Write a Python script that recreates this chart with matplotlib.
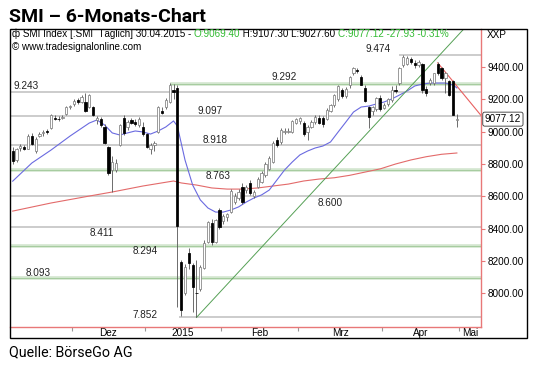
import matplotlib
matplotlib.use("Agg")
import matplotlib.pyplot as plt
from matplotlib.patches import Rectangle
from matplotlib.ticker import FixedLocator, FuncFormatter, NullFormatter

opens = [8880, 8825, 8900, 8905, 8895, 8975, 8880, 8975, 8990, 9000,
         9020, 9085, 9080, 9085, 9110, 9150, 9170, 9195, 9180, 9185,
         9150, 9150, 9070, 9080, 9030, 8905, 8765, 8765, 8920, 9085,
         9030, 9070, 9060, 9040, 9030, 8985, 8890, 8920, 9000, 9130,
         9150, 9180, 9255, 9270, 8195, 8005, 8250, 8175, 8005, 8025,
         8160, 8320, 8435, 8320, 8515, 8445, 8470, 8505, 8565, 8590,
         8655, 8640, 8680, 8600, 8655, 8690, 8730, 8770, 8815, 8950,
         8935, 9000, 9000, 9000, 9055, 9065, 9055, 9000, 9030, 9060,
         9085, 9085, 9080, 9130, 9165, 9200, 9260, 9220, 9285, 9360,
         9380, 9340, 9270, 9150, 9130, 9140, 9210, 9145, 9170, 9195,
         9255, 9300, 9410, 9420, 9450, 9425, 9410, 9420, 9265, 9300,
         9300, 9420, 9390, 9330, 9310, 9310, 9069.40]
highs = [8905, 8900, 8925, 8920, 8985, 8990, 8965, 9000, 9010, 9015,
         9110, 9100, 9095, 9100, 9160, 9165, 9200, 9205, 9225, 9240,
         9235, 9160, 9095, 9090, 9050, 8910, 8850, 8830, 9050, 9100,
         9070, 9085, 9075, 9090, 9060, 8990, 8930, 8945, 9160, 9150,
         9210, 9300, 9295, 9285, 8210, 8180, 8280, 8190, 8210, 8175,
         8330, 8450, 8460, 8460, 8530, 8490, 8500, 8645, 8620, 8645,
         8680, 8670, 8700, 8640, 8720, 8755, 8810, 8850, 8940, 8965,
         9020, 9020, 9020, 9070, 9085, 9090, 9065, 9040, 9070, 9100,
         9100, 9095, 9145, 9170, 9230, 9290, 9270, 9275, 9345, 9400,
         9395, 9350, 9290, 9160, 9160, 9215, 9225, 9175, 9210, 9280,
         9290, 9400, 9474, 9465, 9460, 9440, 9440, 9425, 9280, 9330,
         9365, 9430, 9400, 9370, 9320, 9320, 9107.30]
lows = [8800, 8815, 8880, 8885, 8890, 8915, 8870, 8965, 8975, 8985,
        9015, 9070, 9065, 9075, 9105, 9140, 9160, 9170, 9175, 9120,
        9145, 9095, 9050, 9030, 8925, 8730, 8625, 8750, 8910, 8980,
        9010, 9045, 9035, 9030, 8975, 8900, 8860, 8880, 8990, 9110,
        9140, 9175, 9200, 7915, 7860, 7990, 8150, 7885, 7852, 8015,
        8150, 8310, 8300, 8310, 8400, 8430, 8450, 8495, 8550, 8580,
        8555, 8620, 8610, 8590, 8650, 8680, 8720, 8760, 8805, 8905,
        8925, 8985, 8990, 8990, 9045, 9050, 8975, 8950, 9020, 9050,
        9045, 9030, 9070, 9120, 9150, 9190, 9210, 9210, 9270, 9350,
        9365, 9285, 9180, 9020, 9100, 9130, 9130, 9140, 9160, 9185,
        9240, 9290, 9400, 9410, 9420, 9390, 9400, 9240, 9220, 9290,
        9290, 9350, 9320, 9240, 9220, 9100, 9027.60]
closes = [8820, 8890, 8910, 8895, 8975, 8925, 8955, 8985, 9000, 8995,
          9100, 9080, 9075, 9090, 9150, 9160, 9190, 9180, 9215, 9125,
          9225, 9105, 9085, 9040, 8930, 8745, 8810, 8805, 9040, 8990,
          9060, 9055, 9045, 9080, 8985, 8905, 8915, 8930, 9150, 9115,
          9195, 9290, 9245, 8420, 7895, 8165, 8190, 8040, 8000, 8165,
          8310, 8440, 8320, 8455, 8410, 8480, 8490, 8635, 8605, 8630,
          8565, 8660, 8620, 8630, 8710, 8745, 8800, 8840, 8930, 8920,
          9010, 9005, 9003, 9065, 9075, 9082, 8985, 9030, 9060, 9090,
          9055, 9045, 9135, 9165, 9225, 9280, 9220, 9265, 9340, 9390,
          9375, 9290, 9190, 9090, 9150, 9205, 9140, 9165, 9200, 9260,
          9250, 9390, 9460, 9455, 9430, 9410, 9430, 9255, 9240, 9320,
          9360, 9360, 9330, 9360, 9225, 9105, 9077.12]

# Handelstage je Monat (Nov ab 07.11.) und Achsenbeschriftung
month_bars = [16, 19, 20, 20, 22, 20]
month_labels = ["Dez", "2015", "Feb", "Mrz", "Apr", "Mai"]

# gleitende Durchschnitte (Stuetzpunkte: Kerzenindex, Kurs)
ma_short_idx = [0, 5, 10, 15, 20, 22, 24, 26, 28, 30, 32, 34, 36, 38, 40, 42,
                43, 45, 47, 49, 51, 53, 55, 57, 59, 61, 63, 65, 67, 69, 71,
                73, 75, 77, 79, 81, 83, 85, 87, 89, 91, 93, 95, 97, 99, 101,
                103, 105, 107, 109, 111, 113, 115, 116]
ma_short_val = [8694, 8806, 8886, 8973, 9053, 9072, 9041, 8992, 8979, 8992,
                9004, 8998, 8985, 9004, 9029, 9066, 9035, 8825, 8670, 8578,
                8528, 8503, 8503, 8516, 8535, 8565, 8590, 8609, 8639, 8701,
                8763, 8812, 8856, 8880, 8899, 8911, 8936, 8998, 9059, 9121,
                9152, 9158, 9171, 9183, 9202, 9226, 9251, 9282, 9294, 9300,
                9300, 9300, 9288, 9270]
ma_long_idx = [0, 10, 20, 26, 34, 42, 44, 48, 52, 56, 60, 64, 68, 72, 76,
               80, 84, 88, 92, 96, 100, 104, 108, 112, 116]
ma_long_val = [8509, 8559, 8602, 8627, 8664, 8695, 8683, 8670, 8652, 8645,
               8645, 8652, 8664, 8676, 8695, 8707, 8715, 8730, 8750, 8770,
               8800, 8825, 8845, 8860, 8868]

# Trendlinien (Kerzenindex, Kurs)
trend_up_idx = [48, 120]
trend_up_val = [7852, 9690]
trend_down_idx = [111, 123]
trend_down_val = [9425, 9080]

# Unterstuetzungen / Widerstaende
levels = [9474, 9292, 9243, 9097, 8918, 8763, 8600, 8411, 8294, 8093, 7852]
level_labels = ["9.474", "9.292", "9.243", "9.097", "8.918", "8.763",
                "8.600", "8.411", "8.294", "8.093", "7.852"]
level_start = [101, 41, None, None, None, None, None, None, None, None, 43.5]
level_green = [False, True, False, False, False, True, False, False, True, True, False]
# Label-Position (Kerzenindex, Versatz in Punkt)
label_x = [95.4, 71, 3.5, 51.5, 52.8, 53.6, 82.8, 23.3, 34.5, 6.6, 34.5]
label_dy = [4.5, 5.5, 4.5, 3.5, 3.5, -4.5, -4.5, -4, -4, 4, 1.5]

# Kopfzeile im Chart (Text, Farbe)
header = [("\u0444 SMI Index [.SMI  T\u00e4glich] 30.04.2015 - ", "black"),
          ("O:9069.40", "#33bb33"),
          (" H:9107.30 L:9027.60 ", "black"),
          ("C:9077.12 -27.93 -0.31%", "#33bb33")]

W, H = 540, 369
XMIN, XMAX = -0.7, 122.3
YMIN, YMAX = 7793, 9634

plt.rcParams["font.family"] = ["Liberation Sans", "DejaVu Sans"]
fig = plt.figure(figsize=(W / 100, H / 100), dpi=100)


def fx(px):
    return px / W


def fy(py):
    return 1 - py / H


ax = fig.add_axes([fx(10), fy(327), fx(481) - fx(10), fy(29) - fy(327)])
ax.set_xlim(XMIN, XMAX)
ax.set_ylim(YMIN, YMAX)

# Linien der Niveaus
for val, start, green in zip(levels, level_start, level_green):
    x0 = XMIN if start is None else start
    if green:
        ax.hlines(val, x0, XMAX, color="#d3e6cf", lw=2.6, zorder=1)
        ax.hlines(val, x0, XMAX, color="#a6cc9f", lw=0.7, zorder=1)
    else:
        ax.hlines(val, x0, XMAX, color="#cccccc", lw=1.4, zorder=1)
for val, lab, lx, dy in zip(levels, level_labels, label_x, label_dy):
    ax.annotate(lab, (lx, val), xytext=(0, dy), textcoords="offset points",
                ha="center", va="center", fontsize=7.2, color="#222222", zorder=5)

# gleitende Durchschnitte und Trendlinien
ax.plot(ma_long_idx, ma_long_val, color="#e36a6a", lw=0.8, zorder=2)
ax.plot(ma_short_idx, ma_short_val, color="#6a6ae0", lw=0.8, zorder=2)
ax.plot(trend_up_idx, trend_up_val, color="#55a055", lw=0.7, zorder=2)
ax.plot(trend_down_idx, trend_down_val, color="#e86060", lw=0.8, zorder=2)

# Kerzen
idx = list(range(len(closes)))
ax.vlines(idx, lows, highs, color="#555555", lw=0.6, zorder=3)
for i, (o, c) in enumerate(zip(opens, closes)):
    up = c >= o
    bottom = min(o, c)
    height = max(abs(c - o), 6)
    ax.bar(i, height, bottom=bottom, width=0.6,
           color="white" if up else "black",
           edgecolor="#808080" if up else "black", lw=0.55, zorder=4)

# Achsen
for side in ["left", "top"]:
    ax.spines[side].set_visible(False)
for side in ["right", "bottom"]:
    ax.spines[side].set_color("#e87878")
    ax.spines[side].set_linewidth(1.0)

ax.yaxis.tick_right()
ax.set_yticks(range(8000, 9401, 200))
ax.yaxis.set_major_formatter(FuncFormatter(lambda v, p: f"{v:.2f}"))
ax.tick_params(axis="y", direction="out", length=3, color="#e87878",
               labelsize=7.2, pad=1.5)

bounds = []
n = 0
for b in month_bars:
    n += b
    bounds.append(n - 0.5)
mids = [(bounds[k] + bounds[k + 1]) / 2 for k in range(len(bounds) - 1)]
mids.append((bounds[-1] + XMAX) / 2)
ax.xaxis.set_major_locator(FixedLocator(bounds))
ax.xaxis.set_major_formatter(NullFormatter())
ax.xaxis.set_minor_locator(FixedLocator(mids))
ax.set_xticklabels(month_labels, minor=True)
ax.tick_params(axis="x", which="major", direction="out", length=3,
               color="#999999")
ax.tick_params(axis="x", which="minor", length=0, labelsize=7.2, pad=0.5)

# Schlusskurs-Marke
ax.text(1.008, closes[-1], f"{closes[-1]:.2f}", transform=ax.get_yaxis_transform(),
        ha="left", va="center", fontsize=7.2, clip_on=False,
        bbox=dict(boxstyle="round,pad=0.2", fc="white", ec="#333333", lw=0.6))

# Rahmen
fig.add_artist(Rectangle((fx(10), fy(338)), fx(527) - fx(10), fy(29) - fy(338),
                         transform=fig.transFigure, fill=False, ec="black", lw=1.0))

# Titel und Quelle
fig.text(fx(9), fy(17), "SMI \u2013 6-Monats-Chart", ha="left", va="center",
         fontsize=14, fontweight="bold", family=["Roboto", "DejaVu Sans"])
fig.text(fx(9), fy(352), "Quelle: B\u00f6rseGo AG", ha="left", va="center",
         fontsize=10.3, family=["Roboto", "DejaVu Sans"])

# Kopfzeile (Segmente aneinandergehaengt)
t = fig.text(fx(12), fy(39), header[0][0], ha="left", va="bottom",
             fontsize=7.1, color=header[0][1])
for s, col in header[1:]:
    t = fig.add_artist(matplotlib.text.Annotation(
        s, xy=(1, 0), xycoords=t, ha="left", va="bottom",
        fontsize=7.1, color=col))
fig.text(fx(12), fy(47), "\u00a9 www.tradesignalonline.com", ha="left",
         va="center", fontsize=7.1)
fig.text(fx(487), fy(35), "XXP", ha="left", va="center", fontsize=7.2)

fig.savefig("out.png", dpi=100)
